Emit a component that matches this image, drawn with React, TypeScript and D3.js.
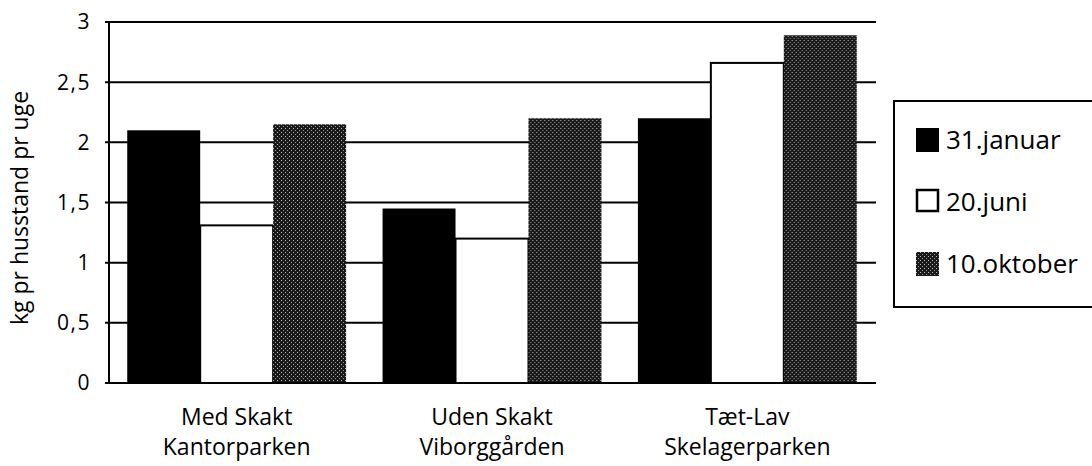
import React from 'react';
import { scaleBand, scaleLinear } from 'd3';

const categories = ['Med Skakt|Kantorparken', 'Uden Skakt|Viborggården', 'Tæt-Lav|Skelagerparken'];
const seriesNames = ['31.januar', '20.juni', '10.oktober'];
const januar = [2.1, 1.45, 2.2];
const juni = [1.31, 1.2, 2.66];
const oktober = [2.15, 2.2, 2.89];
const yTicks = [0, 0.5, 1, 1.5, 2, 2.5, 3];

const W = 1092;
const H = 466;
const font = '"Open Sans", "DejaVu Sans", sans-serif';

const fills = ['#000', '#fff', 'url(#stipple)'];

const App = () => {
  const x0 = scaleBand().domain(categories).range([109, 875]);
  const x1 = scaleBand().domain(seriesNames).range([0, x0.bandwidth()]).paddingOuter(0.25);
  const y = scaleLinear().domain([0, 3]).range([383, 22]);
  const series = [januar, juni, oktober];
  const fmt = (d: number) => String(d).replace('.', ',');

  return (
    <svg width={W} height={H} style={{ position: 'absolute', left: 0, top: 0, background: '#fff' }}>
      <defs>
        <pattern id="stipple" width="4" height="4" patternUnits="userSpaceOnUse">
          <rect width="4" height="4" fill="#1a1a1a" />
          <rect x="0" y="0" width="1" height="1" fill="#bbb" />
          <rect x="2" y="2" width="1" height="1" fill="#999" />
        </pattern>
      </defs>

      {/* gridlines */}
      {yTicks.map(t => (
        <line key={t} x1={105} x2={876} y1={y(t)} y2={y(t)} stroke="#000" strokeWidth={2} />
      ))}
      <line x1={109} x2={109} y1={y(3)} y2={y(0)} stroke="#000" strokeWidth={2} />

      {/* bars */}
      {categories.map((c, ci) => (
        <g key={c} transform={`translate(${x0(c)},0)`}>
          {series.map((s, si) => (
            <rect
              key={si}
              x={x1(seriesNames[si])}
              y={y(s[ci])}
              width={x1.bandwidth()}
              height={y(0) - y(s[ci])}
              fill={fills[si]}
              stroke="#000"
              strokeWidth={si === 1 ? 2 : 0}
            />
          ))}
        </g>
      ))}
      <line x1={105} x2={876} y1={y(0)} y2={y(0)} stroke="#000" strokeWidth={2} />

      {/* y ticks */}
      {yTicks.map(t => (
        <text key={t} x={91} y={y(t)} dy="0.35em" textAnchor="end" fontFamily={font} fontSize={21} letterSpacing={1.5} fill="#000">
          {fmt(t)}
        </text>
      ))}

      <text
        transform="translate(28,208) rotate(-90)"
        textAnchor="middle"
        fontFamily={font}
        fontSize={23}
        fill="#000"
      >
        kg pr husstand pr uge
      </text>

      {/* category labels */}
      {categories.map(c => {
        const [a, b] = c.split('|');
        const cx = (x0(c) as number) + x0.bandwidth() / 2;
        return (
          <text key={c} textAnchor="middle" fontFamily={font} fontSize={23} fontWeight={500} fill="#000">
            <tspan x={cx} y={425}>{a}</tspan>
            <tspan x={cx} y={455}>{b}</tspan>
          </text>
        );
      })}

      {/* legend */}
      <path d="M1092,101 H894 V307 H1092" fill="none" stroke="#000" strokeWidth={2} />
      {seriesNames.map((n, i) => (
        <g key={n} transform={`translate(0,${140 + i * 62})`}>
          <rect
            x={i === 1 ? 917 : 916}
            y={-12}
            width={i === 1 ? 21 : 23}
            height={i === 1 ? 21 : 24}
            fill={fills[i]}
            stroke="#000"
            strokeWidth={i === 1 ? 2.5 : 0}
          />
          <text x={946} y={0} dy="0.35em" fontFamily={font} fontSize={26} fill="#000">
            {n}
          </text>
        </g>
      ))}
    </svg>
  );
};

export default App;
